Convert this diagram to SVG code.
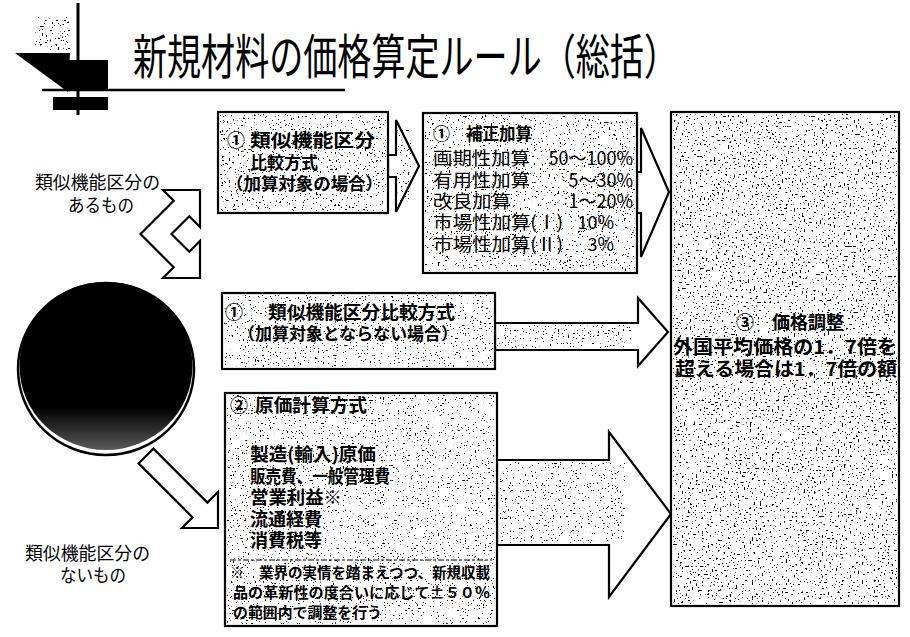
<svg xmlns="http://www.w3.org/2000/svg" width="910" height="637" viewBox="0 0 910 637">
<style>
text{font-family:"Noto Sans CJK JP","Noto Sans CJK SC",sans-serif;fill:#000}
.b{font-weight:bold}
.box{fill:#fff;stroke:#000;stroke-width:2.2}
.arr{fill:#fff;stroke:#000;stroke-width:2.2;stroke-linejoin:miter}
</style>
<defs>
<filter id="spk" x="0" y="0" width="1" height="1" color-interpolation-filters="sRGB">
<feTurbulence type="fractalNoise" baseFrequency="0.55" numOctaves="2" seed="7"/>
<feColorMatrix type="matrix" values="0 0 0 0 0  0 0 0 0 0  0 0 0 0 0  1 0 0 0 0"/>
<feComponentTransfer><feFuncA type="linear" slope="30" intercept="-20.16"/></feComponentTransfer>
</filter>
<filter id="spk2" x="0" y="0" width="1" height="1" color-interpolation-filters="sRGB">
<feTurbulence type="fractalNoise" baseFrequency="0.5" numOctaves="2" seed="3"/>
<feColorMatrix type="matrix" values="0 0 0 0 0  0 0 0 0 0  0 0 0 0 0  1 0 0 0 0"/>
<feComponentTransfer><feFuncA type="linear" slope="30" intercept="-20.1"/></feComponentTransfer>
</filter>
<filter id="spk3" x="0" y="0" width="1" height="1" color-interpolation-filters="sRGB">
<feTurbulence type="fractalNoise" baseFrequency="0.6" numOctaves="2" seed="11"/>
<feColorMatrix type="matrix" values="0 0 0 0 0  0 0 0 0 0  0 0 0 0 0  1 0 0 0 0"/>
<feComponentTransfer><feFuncA type="linear" slope="30" intercept="-20.64"/></feComponentTransfer>
</filter>
<linearGradient id="cg" x1="0" y1="0" x2="0" y2="1">
<stop offset="0" stop-color="#000"/>
<stop offset="0.75" stop-color="#000"/>
<stop offset="1" stop-color="#5a5a5a"/>
</linearGradient>
</defs>
<rect width="910" height="637" fill="#fff"/>

<g id="logo">
<rect x="35" y="17" width="35" height="33" fill="#fff"/>
<rect x="35" y="17" width="35" height="33" filter="url(#spk2)"/>
<polygon points="15,53 70,53 68,92" fill="#000"/>
<rect x="67" y="60" width="41" height="30" fill="#000"/>
<rect x="53" y="97" width="55" height="13" fill="#000"/>
<line x1="78" y1="3" x2="78" y2="115" stroke="#000" stroke-width="3"/>
<line x1="42" y1="90" x2="345" y2="90" stroke="#000" stroke-width="2.5"/>
</g>

<g id="title">
<text x="133" y="74" font-size="48" textLength="545" lengthAdjust="spacingAndGlyphs">新規材料の価格算定ルール（総括）</text>
</g>

<g id="connectors">
<polygon class="arr" points="388,155 396,155 396,120 419,166 396,212 396,177 388,177"/>
<rect x="397" y="130" width="14" height="72" filter="url(#spk3)"/>
<polygon class="arr" points="637,172 641,172 641,128 669,192 641,257 641,213 637,213"/>
<polygon class="arr" points="495,323 638,323 638,298 668,332 638,366 638,350 495,350"/>
<rect x="497" y="325" width="135" height="23" filter="url(#spk3)"/>
<polygon class="arr" points="497,460 609,460 609,432 671,514 609,597 609,545 497,545"/>
<rect x="500" y="462" width="125" height="81" filter="url(#spk3)"/>
<polygon class="arr" points="140.5,234 173.7,200.7 163,190 200,190 200,227 189.3,216.3 171.5,234 189.3,251.7 200,241 200,278 163,278 173.7,267.3"/>
<polygon class="arr" points="153.4,448.6 207.4,502.6 218,492 218,528 182,528 192.6,517.4 138.6,463.4"/>
</g>

<g id="node-circle">
<ellipse cx="106" cy="369" rx="88" ry="86" fill="#fff" stroke="#000" stroke-width="2.5"/>
<ellipse cx="106" cy="366" rx="86.5" ry="84" fill="url(#cg)"/>
</g>

<g id="label-upper">
<text x="35" y="189" font-size="18" textLength="125" lengthAdjust="spacingAndGlyphs">類似機能区分の</text>
<text x="68" y="212" font-size="18" textLength="66" lengthAdjust="spacingAndGlyphs">あるもの</text>
</g>

<g id="label-lower">
<text x="25" y="560" font-size="18" textLength="125" lengthAdjust="spacingAndGlyphs">類似機能区分の</text>
<text x="60" y="582" font-size="18" textLength="66" lengthAdjust="spacingAndGlyphs">ないもの</text>
</g>

<g id="node-boxA">
<rect class="box" x="218" y="112" width="170" height="101"/>
<rect x="220" y="114" width="166" height="97" filter="url(#spk)"/>
<text class="b" x="227" y="147" font-size="18">①</text>
<text class="b" x="250" y="147" font-size="18" textLength="125" lengthAdjust="spacingAndGlyphs">類似機能区分</text>
<text class="b" x="250" y="169" font-size="17" textLength="68" lengthAdjust="spacingAndGlyphs">比較方式</text>
<text class="b" x="226" y="190" font-size="17" textLength="157" lengthAdjust="spacingAndGlyphs">（加算対象の場合）</text>
</g>

<g id="node-boxB">
<rect class="box" x="423" y="113" width="214" height="160"/>
<rect x="425" y="115" width="210" height="156" filter="url(#spk)"/>
<text class="b" x="433" y="140" font-size="17">①</text>
<text class="b" x="466" y="140" font-size="17" textLength="66" lengthAdjust="spacingAndGlyphs">補正加算</text>
<text x="433" y="165" font-size="18" textLength="97" lengthAdjust="spacingAndGlyphs">画期性加算</text>
<text x="633" y="165" font-size="18" text-anchor="end">50～100%</text>
<text x="433" y="187" font-size="18" textLength="97" lengthAdjust="spacingAndGlyphs">有用性加算</text>
<text x="633" y="187" font-size="18" text-anchor="end">5～30%</text>
<text x="433" y="208" font-size="18" textLength="78" lengthAdjust="spacingAndGlyphs">改良加算</text>
<text x="633" y="208" font-size="18" text-anchor="end">1～20%</text>
<text x="433" y="229" font-size="18" textLength="130" lengthAdjust="spacingAndGlyphs">市場性加算(Ⅰ)</text>
<text x="614" y="229" font-size="18" text-anchor="end">10%</text>
<text x="433" y="251" font-size="18" textLength="130" lengthAdjust="spacingAndGlyphs">市場性加算(Ⅱ)</text>
<text x="614" y="251" font-size="18" text-anchor="end">3%</text>
</g>

<g id="node-boxC">
<rect class="box" x="671" y="112" width="228" height="494"/>
<rect x="673" y="114" width="224" height="490" filter="url(#spk2)"/>
<text class="b" x="790" y="329" font-size="18" text-anchor="middle">③　価格調整</text>
<text class="b" x="673" y="354" font-size="19" textLength="224" lengthAdjust="spacingAndGlyphs">外国平均価格の1．7倍を</text>
<text class="b" x="675" y="376" font-size="19" textLength="222" lengthAdjust="spacingAndGlyphs">超える場合は1．7倍の額</text>
</g>

<g id="node-boxD">
<rect class="box" x="222" y="293" width="273" height="76"/>
<rect x="224" y="295" width="269" height="72" filter="url(#spk3)"/>
<text class="b" x="225" y="319" font-size="18">①</text>
<text class="b" x="268" y="319" font-size="18" textLength="187" lengthAdjust="spacingAndGlyphs">類似機能区分比較方式</text>
<text class="b" x="238" y="340" font-size="17" textLength="220" lengthAdjust="spacingAndGlyphs">（加算対象とならない場合）</text>
</g>

<g id="node-boxE">
<rect class="box" x="225" y="393" width="272" height="233"/>
<rect x="227" y="395" width="268" height="229" filter="url(#spk3)"/>
<text class="b" x="230" y="412" font-size="18">②</text>
<text class="b" x="255" y="412" font-size="18" textLength="112" lengthAdjust="spacingAndGlyphs">原価計算方式</text>
<text class="b" x="250" y="461" font-size="18" textLength="126" lengthAdjust="spacingAndGlyphs">製造(輸入)原価</text>
<text class="b" x="250" y="483" font-size="18" textLength="140" lengthAdjust="spacingAndGlyphs">販売費、一般管理費</text>
<text class="b" x="250" y="504" font-size="18" textLength="92" lengthAdjust="spacingAndGlyphs">営業利益※</text>
<text class="b" x="250" y="526" font-size="18" textLength="72" lengthAdjust="spacingAndGlyphs">流通経費</text>
<text class="b" x="250" y="547" font-size="18" textLength="72" lengthAdjust="spacingAndGlyphs">消費税等</text>
<line x1="230" y1="560" x2="492" y2="560" stroke="#000" stroke-width="1.2" stroke-dasharray="6 2 3 2"/>
<text class="b" x="230" y="578" font-size="14.5" textLength="260" lengthAdjust="spacingAndGlyphs">※　業界の実情を踏まえつつ、新規収載</text>
<text class="b" x="233" y="598" font-size="14.5" textLength="257" lengthAdjust="spacingAndGlyphs">品の革新性の度合いに応じて±５０％</text>
<text class="b" x="233" y="618" font-size="14.5" textLength="149" lengthAdjust="spacingAndGlyphs">の範囲内で調整を行う</text>
</g>
</svg>
